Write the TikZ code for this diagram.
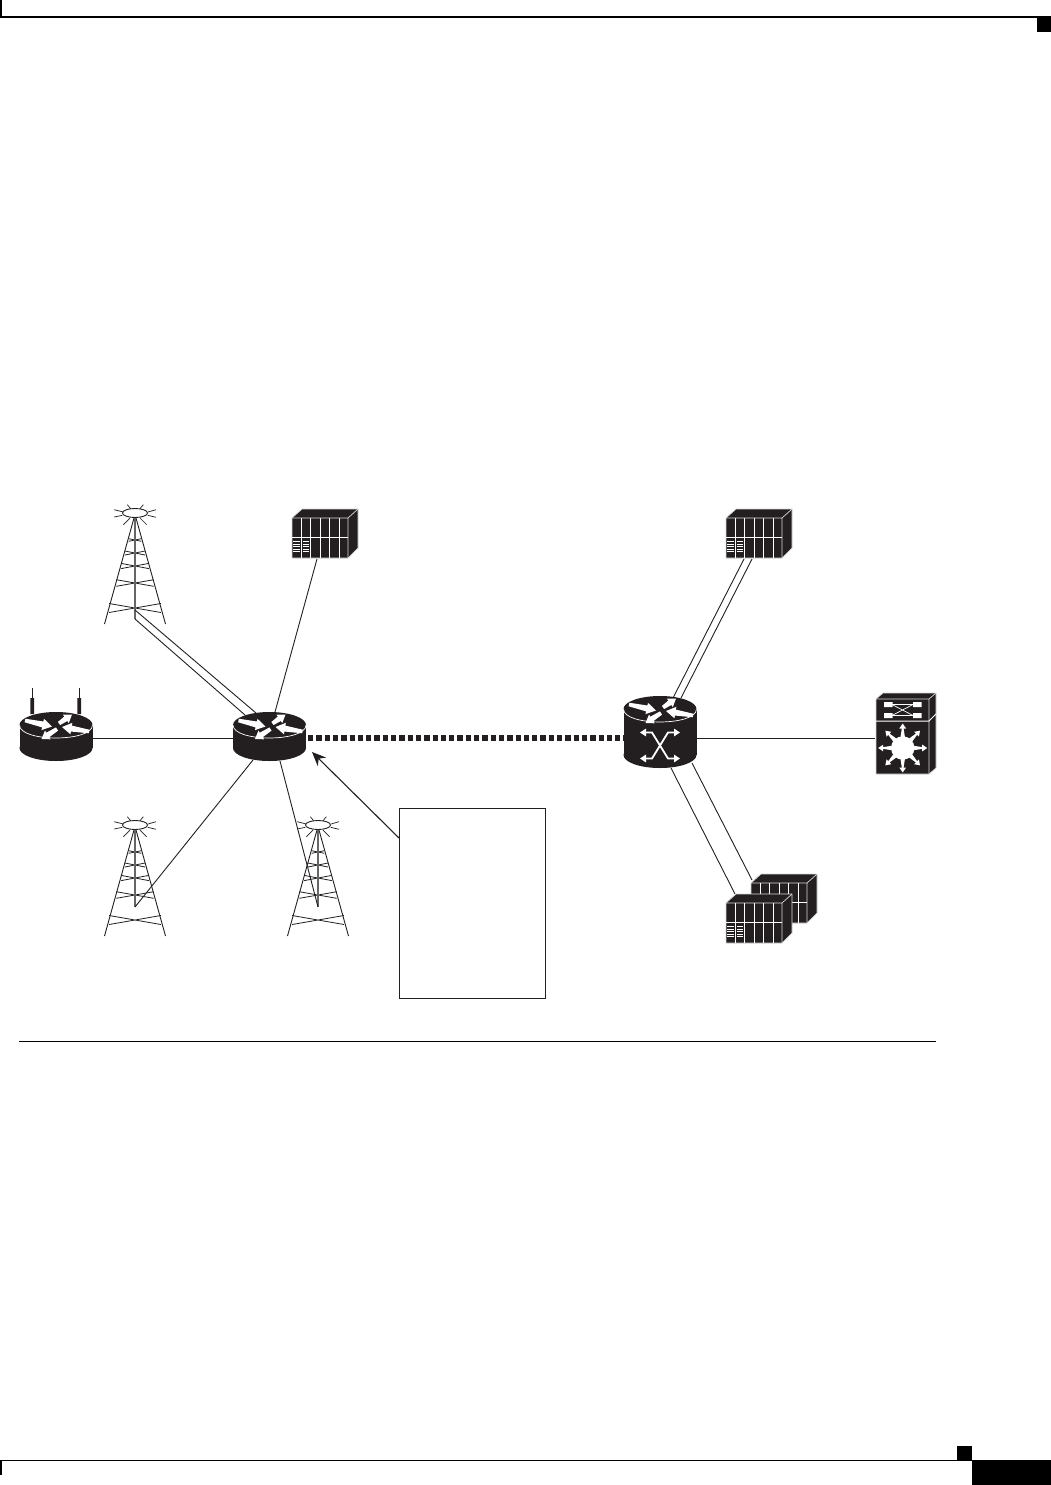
\documentclass[tikz,border=0pt]{standalone}
\usetikzlibrary{arrows.meta,calc}
\definecolor{ink}{HTML}{231F20}
\definecolor{edge}{HTML}{D8D8D8}
% tapered white arrow: tail, tip, tail half width, neck half width, head half width, head length
\newcommand{\taperarrow}[6]{%
  \coordinate (ta) at (#1);
  \coordinate (tb) at (#2);
  \coordinate (tn) at ($(tb)!#6pt!(ta)$);
  \fill[white] ($(ta)!#3pt!90:(tb)$) -- ($(tn)!#4pt!90:(tb)$) -- ($(tn)!#5pt!90:(tb)$) -- (tb)
    -- ($(tn)!#5pt!-90:(tb)$) -- ($(tn)!#4pt!-90:(tb)$) -- ($(ta)!#3pt!-90:(tb)$) -- cycle;
}
\tikzset{
  link/.style={draw=ink,line width=0.9pt},
  thinarrow/.style={draw=white,line width=1.8pt,line join=miter,{Triangle[length=6pt,width=7.5pt]}-{Triangle[length=6pt,width=7.5pt]}},
  hair/.style={draw=white,line width=0.9pt},
  routertop/.pic={
    \fill[ink] (0,0) ellipse [x radius=36.5,y radius=13];
    \draw[draw=white,line width=0.7pt] (-36.5,0) .. controls (-36.5,17.3) and (36.5,17.3) .. (36.5,0);
    \taperarrow{-31,-4.5}{-4,1.5}{1.8}{3}{5.8}{9.5}
    \taperarrow{3,-1.5}{16,-10.5}{1.9}{2.7}{5.2}{7.5}
    \taperarrow{1,4}{-14.5,14}{1.9}{2.7}{5.2}{7.5}
    \taperarrow{33,6.5}{6,2}{1.8}{3}{5.8}{9.5}
  },
  router/.pic={
    \fill[ink] (0,23) ellipse [x radius=36.5,y radius=13];
    \fill[ink] (-36.5,0) rectangle (36.5,23);
    \pic {routertop};
  },
  xrouter/.pic={
    \fill[ink] (0,46) ellipse [x radius=36.5,y radius=13];
    \fill[ink] (-36.5,0) rectangle (36.5,46);
    \pic {routertop};
    \draw[thinarrow] (-20,23.5) -- (-8,23.5) -- (8,49.5) -- (20,49.5);
    \draw[thinarrow] (-20,49.5) -- (-8,49.5) -- (8,23.5) -- (20,23.5);
  },
  rack/.pic={
    \filldraw[fill=ink,draw=edge,line width=0.7pt,line join=round] (0,0) -- (10,-9) -- (66,-9) -- (66,30) -- (56,40) -- (0,40) -- cycle;
    \draw[draw=edge,line width=0.7pt] (0,0) -- (56,0) -- (66,-9) (56,0) -- (56,40);
    \foreach \cx in {9.2,18.6,28,37.5,47} {\draw[hair] (\cx,0) -- (\cx,40);}
    \draw[hair] (0,19.5) -- (56,19.5);
    \foreach \sy in {23.5,26,28.5,31,33.5} {
      \draw[draw=white,line width=0.8pt] (1.2,\sy) -- (7.6,\sy) (10.6,\sy) -- (17,\sy);
    }
  },
  tower/.pic={
    \draw[link] (0,0) ellipse [x radius=12.5,y radius=4.5];
    \draw[draw=ink,line width=0.7pt]
      (-20.7,-3.3) -- (-11.7,-1) (-20.7,4) -- (-12.7,2.3) (-7.7,-8.3) -- (-4.3,-4.3)
      (8.3,-8.3) -- (5,-4.3) (21,-3.3) -- (13,-1) (21,4.3) -- (12.7,2.3)
      (-11.7,11.7) -- (-5,5) (11.7,11.7) -- (5,5);
    \draw[draw=ink,line width=0.9pt] (-30.5,111) -- (-1,5) (30.5,111) -- (1,5);
    \foreach \ly/\lh in {27/1.3,40/2,53/2.6,70/3.3,95/4.5} {
      \pgfmathsetmacro{\lx}{30.5*(\ly-5)/106}
      \draw[draw=ink,line width=0.8pt] (-\lx,\ly-\lh) -- (\lx,\ly+\lh) (-\lx,\ly+\lh) -- (\lx,\ly-\lh);
    }
    \draw[draw=black!60,line width=1.1pt] (0,5) -- (0,#1);
  },
  switchbox/.pic={
    \filldraw[fill=ink,draw=edge,line width=0.7pt,line join=round] (0,0) -- (7,-6) -- (60,-6) -- (60,69) -- (53,75) -- (0,75) -- cycle;
    \draw[draw=edge,line width=0.7pt] (0,0) -- (53,0) -- (60,-6) (53,0) -- (53,75);
    \draw[draw=white,line width=1pt] (0,22) -- (53,22) -- (60,15);
    \fill[white] (8,3) rectangle (16.5,8) (37,3) rectangle (45.5,8) (8,14) rectangle (16.5,19) (37,14) rectangle (45.5,19);
    \draw[draw=white,line width=0.7pt] (16,5.5) -- (37,5.5) (16,16.5) -- (37,16.5) (16,5.5) -- (37,16.5) (16,16.5) -- (37,5.5);
    \fill[white] (26.7,49) circle [radius=11.7];
    \foreach \ang in {0,45,...,315} {
      \taperarrow{$(26.7,49)+(\ang:11)$}{$(26.7,49)+(\ang:24.5)$}{2.2}{0.9}{3.4}{5}
    }
  }
}
\begin{document}
\begin{tikzpicture}[x=1pt,y=-1pt]
\useasboundingbox (0,0) rectangle (1051,1485);
\fill[white] (0,0) rectangle (1051,1485);

% page furniture
\coordinate (hdL) at (0,17);
\coordinate (hdR) at (1051,17);
\coordinate (hdT) at (1,0);
\coordinate (hdB) at (1,17);
\coordinate (ruleL) at (19,1041);
\coordinate (ruleR) at (936,1041);
\coordinate (ftL) at (0,1460.5);
\coordinate (ftR) at (972,1460.5);
\draw[black,line width=1.4pt] (hdL) -- (hdR);
\draw[black,line width=2pt] (hdT) -- (hdB);
\fill[black] (1037,17) rectangle (1051,32);
\draw[black,line width=0.8pt] (ruleL) -- (ruleR);
\draw[black,line width=1.2pt] (ftL) -- (ftR);
\draw[black,line width=2pt] (1,1460) -- (1,1475);
\fill[black] (957,1446) rectangle (972,1460);
\fill[black] (972,1460) rectangle (1051,1485);

% connector ends
\coordinate (tAu) at (135,610);
\coordinate (tAl) at (135,619);
\coordinate (rBu) at (256,713);
\coordinate (rBl) at (245,715);
\coordinate (rkA) at (317,559);
\coordinate (rBt) at (275,712);
\coordinate (rA) at (93,738);
\coordinate (rBw) at (233,738);
\coordinate (tB) at (135,907);
\coordinate (rBs) at (253,760);
\coordinate (tC) at (318,907);
\coordinate (rBd) at (280,761);
\coordinate (rBe) at (306,738);
\coordinate (rCw) at (624,738);
\coordinate (rCe) at (697,738);
\coordinate (sw) at (875,738);
\coordinate (rkBa) at (744,559);
\coordinate (rkBb) at (752,559);
\coordinate (rCa) at (673,698);
\coordinate (rCb) at (681,698);
\coordinate (rCc) at (671,768);
\coordinate (rCd) at (692,763);
\coordinate (rkCa) at (735,894);
\coordinate (rkDa) at (752,880);
\coordinate (tip) at (312,752);

% towers
\pic at (135,513) {tower=106};
\pic at (135,825) {tower=82};
\pic at (318,825) {tower=82};

% connectors
\draw[link] (tAu) -- (rBu);
\draw[link] (tAl) -- (rBl);
\draw[link] (rkA) -- (rBt);
\draw[link] (rA) -- (rBw);
\draw[link] (tB) -- (rBs);
\draw[link] (tC) -- (rBd);
\draw[link] (rCe) -- (sw);
\draw[link] (rkBa) -- (rCa);
\draw[link] (rkBb) -- (rCb);
\draw[link] (rCc) -- (rkCa);
\draw[link] (rCd) -- (rkDa);
\draw[draw=ink,line width=5.6pt,dash pattern=on 5.3pt off 3pt] (rBe)++(2,0) -- (rCw);

% devices
\fill[ink] (30.4,698) rectangle (34,714) (77.4,698) rectangle (81,714);
\draw[draw=ink,line width=1pt] (32.2,688) -- (32.2,698) (79.2,688) -- (79.2,698);
\pic at (56,725) {router};
\pic at (269.5,725) {router};
\pic at (660,709) {xrouter};
\pic at (292,518) {rack};
\pic at (726,518) {rack};
\pic at (751,883) {rack};
\pic at (726,903) {rack};
\pic at (876,699) {switchbox};

% callout
\node[draw=ink,fill=white,line width=0.8pt,minimum width=146pt,minimum height=190pt,inner sep=0pt,anchor=north west] (callout) at (399,808) {};
\coordinate (calloutL) at (399,838);
\draw[draw=ink,line width=1.1pt,-{Stealth[length=14pt,width=12pt]}] (calloutL) -- (tip);
\end{tikzpicture}
\end{document}
